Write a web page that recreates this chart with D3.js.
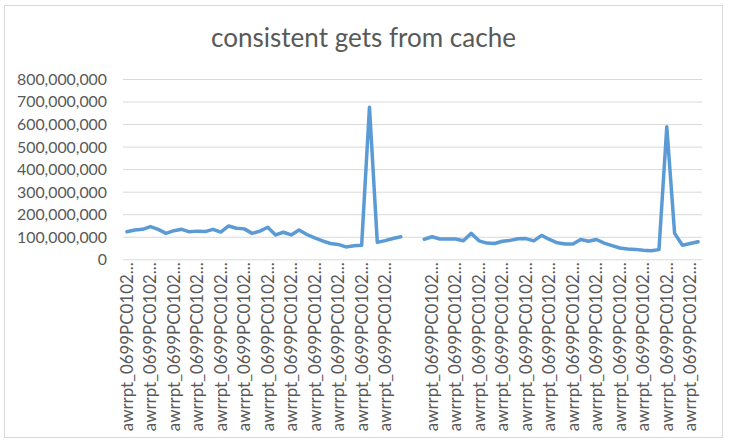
<!DOCTYPE html>
<html>
<head>
<meta charset="utf-8">
<script src="https://cdn.jsdelivr.net/npm/d3@7"></script>
<style>
  html, body { margin: 0; padding: 0; background: #fff; }
  svg { display: block; }
  text { font-family: Lato, "Open Sans", sans-serif; fill: #595959; }
</style>
</head>
<body>
<svg id="chart" width="732" height="443"></svg>
<script>
// ---- data ----
const title = "consistent gets from cache";
const labelText = "awrrpt_0699PC0102...";
// 74 categories; two blank rows (index 36, 37) split the report series
const blankRows = [36, 37];
const categories = d3.range(74).map(i => blankRows.includes(i) ? "" : labelText);
const values = [
  122e6, 130e6, 133e6, 145e6, 133e6, 115e6, 127e6, 133e6, 122e6, 125e6,
  123e6, 133e6, 121e6, 148e6, 138e6, 135e6, 115e6, 125e6, 142e6, 108e6,
  120e6, 108e6, 130e6, 110e6, 95e6, 82e6, 70e6, 66e6, 55e6, 60e6,
  62e6, 675e6, 75e6, 83e6, 92e6, 100e6, null, null, 89e6, 100e6,
  90e6, 90e6, 90e6, 82e6, 115e6, 82e6, 72e6, 70e6, 80e6, 84e6,
  91e6, 92e6, 82e6, 106e6, 88e6, 73e6, 68e6, 68e6, 88e6, 80e6,
  88e6, 72e6, 61e6, 50e6, 46e6, 44e6, 40e6, 38e6, 43e6, 588e6,
  115e6, 62e6, 70e6, 78e6
];
const yTicks = [0, 100e6, 200e6, 300e6, 400e6, 500e6, 600e6, 700e6, 800e6];
const labelEvery = 3;

// ---- layout ----
const svg = d3.select("#chart");
const plot = { left: 123, right: 702, top: 79, bottom: 259.3 };

svg.append("rect")
  .attr("x", 4.5).attr("y", 5.5).attr("width", 718).attr("height", 432)
  .attr("fill", "#fff").attr("stroke", "#d9d9d9").attr("stroke-width", 1);

const x = d3.scaleBand().domain(d3.range(categories.length))
  .range([plot.left, plot.right]).padding(0);
const y = d3.scaleLinear().domain([0, 800e6]).range([plot.bottom, plot.top]);

// fit helper: set font-size so text width matches target
function fit(sel, target, base) {
  sel.attr("font-size", base);
  const w = sel.node().getComputedTextLength();
  const fs = base * target / w;
  sel.attr("font-size", fs);
  return fs;
}

// title
const t = svg.append("text")
  .attr("x", 363.5).attr("y", 46.5)
  .attr("text-anchor", "middle")
  .text(title);
fit(t, 305, 20);

// y axis (gridlines + labels)
const fmt = d3.format(",");
const yAxis = d3.axisLeft(y).tickValues(yTicks)
  .tickSize(-(plot.right - plot.left)).tickPadding(16)
  .tickFormat(d => fmt(d));
const gy = svg.append("g")
  .attr("transform", `translate(${plot.left},0)`)
  .call(yAxis);
gy.select(".domain").remove();
gy.selectAll(".tick line").attr("stroke", "#d9d9d9").attr("stroke-width", 1);
const yl = gy.selectAll(".tick text").attr("fill", "#595959")
  .style("font-family", "Lato, 'Open Sans', sans-serif");
const big = yl.filter(d => d === 800e6);
const yfs = fit(big, 90, 15);
yl.attr("font-size", yfs).attr("dy", "0.34em");

// x axis labels
const xAxis = d3.axisBottom(x)
  .tickValues(d3.range(0, categories.length, labelEvery))
  .tickSize(0).tickPadding(0)
  .tickFormat(i => categories[i]);
const gx = svg.append("g")
  .attr("transform", `translate(0,${plot.bottom})`)
  .call(xAxis);
gx.select(".domain").remove();
const xl = gx.selectAll(".tick text")
  .attr("fill", "#595959")
  .style("font-family", "Lato, 'Open Sans', sans-serif")
  .attr("text-anchor", "end")
  .attr("transform", "rotate(-90)")
  .attr("x", -3).attr("y", 0).attr("dy", "0.35em");
const firstLabel = xl.filter((d, i) => i === 0);
const xfs = fit(firstLabel, 169, 14);
xl.attr("font-size", xfs);

// line
const line = d3.line()
  .defined(d => d != null)
  .x((d, i) => x(i) + x.bandwidth() / 2)
  .y(d => y(d));
svg.append("path")
  .datum(values)
  .attr("fill", "none")
  .attr("stroke", "#5b9bd5")
  .attr("stroke-width", 3.5)
  .attr("stroke-linejoin", "round")
  .attr("stroke-linecap", "round")
  .attr("d", line);
</script>
</body>
</html>
